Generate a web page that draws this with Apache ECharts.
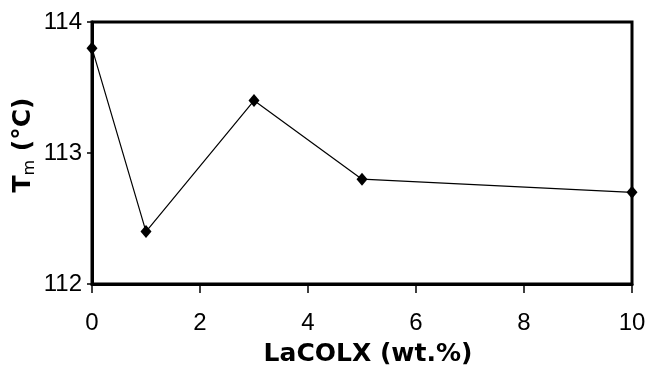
<!DOCTYPE html>
<html>
  <head>
    <meta charset="utf-8">
    <title>Tm vs LaCOLX</title>
    <script src="https://cdn.jsdelivr.net/npm/echarts@6/dist/echarts.min.js"></script>
  </head>
  <body style="margin:0; background:#fff;">
      <div id="main" style="width:652px; height:370px;"></div>
      <script>
          // wt.% of LaCOLX and melting temperature
          var loading = [0, 1, 3, 5, 10]
          var tm = [113.8, 112.4, 113.4, 112.8, 112.7]
          var xTicks = [0, 2, 4, 6, 8, 10]
          var yTicks = [112, 113, 114]

          var chart = echarts.init(document.querySelector('#main'))
          var tickFont = "'Liberation Sans', sans-serif"

          var points = loading.map(function(x, i) {
              return [x, tm[i]]
          })

          var option = {
              animation: false,
              grid: {
                  left: 92, right: 20, top: 22, bottom: 86,
                  outerBoundsMode: 'none',
                  containLabel: false,
                  show: true,
                  borderColor: '#000',
                  borderWidth: 3
              },
              xAxis: {
                  type: 'value',
                  min: xTicks[0],
                  max: xTicks[xTicks.length - 1],
                  interval: 2,
                  name: 'LaCOLX (wt.%)',
                  nameLocation: 'middle',
                  nameGap: 58,
                  nameTextStyle: {
                      fontFamily: 'DejaVu Sans', fontWeight: 'bold', fontSize: 25, color: '#000',
                      padding: [0, 0, 0, 12]
                  },
                  axisLine: { lineStyle: { color: '#000', width: 3 } },
                  axisTick: { inside: false, length: 9, lineStyle: { color: '#000', width: 1.5 } },
                  axisLabel: { margin: 27, fontFamily: tickFont, fontSize: 24, color: '#000' },
                  splitLine: { show: false }
              },
              yAxis: {
                  type: 'value',
                  min: yTicks[0],
                  max: yTicks[yTicks.length - 1],
                  interval: 1,
                  name: '{b|T}{s|m}{b| (°C)}',
                  nameLocation: 'middle',
                  nameGap: 54,
                  nameMoveOverlap: false,
                  nameTextStyle: {
                      color: '#000',
                      padding: [0, 0, 0, 16],
                      rich: {
                          b: { fontFamily: 'DejaVu Sans', fontWeight: 'bold', fontSize: 25, color: '#000', lineHeight: 30 },
                          s: { fontFamily: 'DejaVu Sans', fontSize: 16, color: '#000', lineHeight: 30, padding: [14, 0, 0, 0] }
                      }
                  },
                  axisLine: { lineStyle: { color: '#000', width: 3 } },
                  axisTick: { inside: false, length: 5, lineStyle: { color: '#000', width: 1.5 } },
                  axisLabel: { margin: 10, fontFamily: tickFont, fontSize: 24, color: '#000' },
                  splitLine: { show: false }
              },
              series: [{
                  type: 'line',
                  data: points,
                  clip: false,
                  symbol: 'diamond',
                  symbolSize: [11, 13],
                  itemStyle: { color: '#000' },
                  lineStyle: { color: '#000', width: 1.2 }
              }]
          }

          chart.setOption(option)
      </script>
  </body>
</html>
